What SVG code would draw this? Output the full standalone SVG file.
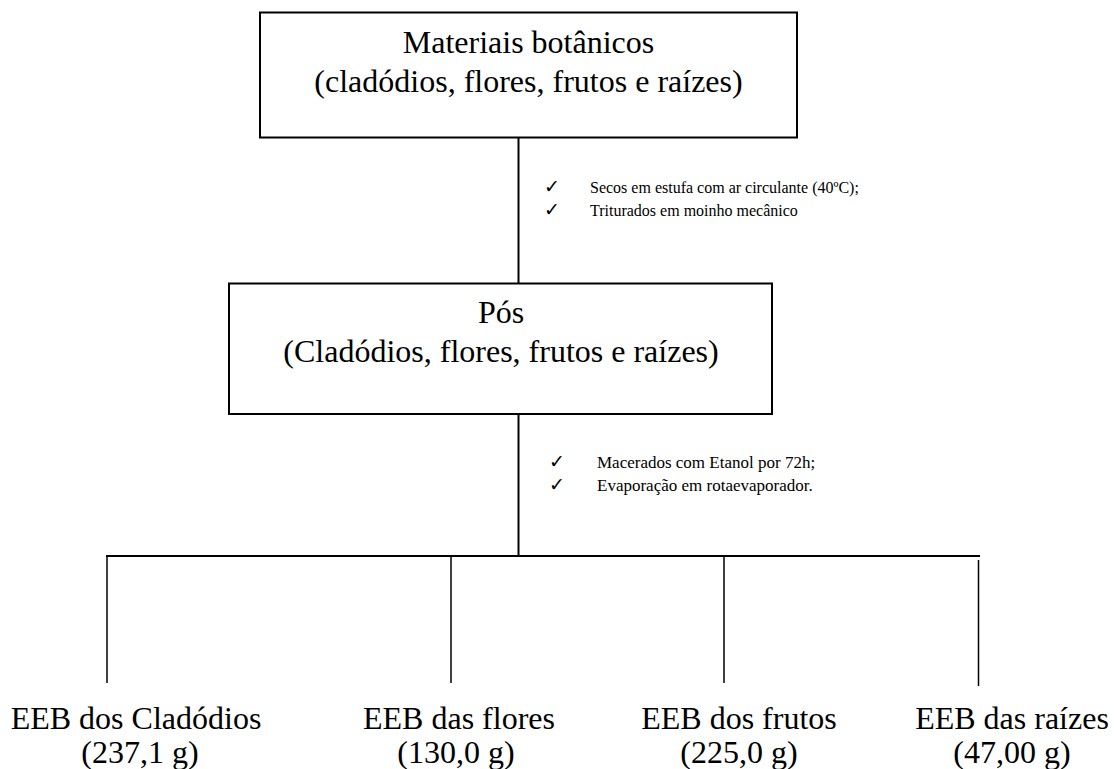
<svg xmlns="http://www.w3.org/2000/svg" width="1114" height="769" viewBox="0 0 1114 769">
<style>
.box{fill:#fff;stroke:#000;stroke-width:2}
.t32{font-family:"Liberation Serif","Times New Roman",serif;font-size:32px;fill:#000;text-anchor:middle}
.t16{font-family:"Liberation Serif","Times New Roman",serif;font-size:16px;fill:#000}
.t17{font-family:"Liberation Serif","Times New Roman",serif;font-size:17px;fill:#000}
.ck{font-family:"DejaVu Sans",sans-serif;font-size:19px;fill:#000}
.ln{stroke:#000;stroke-width:2;fill:none}
.br{stroke:#000;stroke-width:1.5;fill:none}
</style>
<rect width="1114" height="769" fill="#fff"/>
<g id="connectors">
<line class="ln" x1="518.5" y1="137" x2="518.5" y2="283"/>
<line class="ln" x1="518.5" y1="414" x2="518.5" y2="556"/>
<line class="ln" x1="106" y1="556" x2="980" y2="556"/>
<line class="br" x1="107" y1="556" x2="107" y2="683"/>
<line class="br" x1="451" y1="556" x2="451" y2="683"/>
<line class="br" x1="724" y1="556" x2="724" y2="683"/>
<line class="br" x1="978.5" y1="560" x2="978.5" y2="686"/>
</g>
<g id="step1">
<text class="ck" x="544" y="193">✓</text>
<text class="t16" x="590" y="193">Secos em estufa com ar circulante (40ºC);</text>
<text class="ck" x="544" y="216">✓</text>
<text class="t16" x="590" y="216">Triturados em moinho mecânico</text>
</g>
<g id="step2">
<text class="ck" x="549" y="468">✓</text>
<text class="t17" x="597" y="468">Macerados com Etanol por 72h;</text>
<text class="ck" x="549" y="491">✓</text>
<text class="t17" x="597" y="491">Evaporação em rotaevaporador.</text>
</g>
<g id="materiais">
<rect class="box" x="260" y="12.5" width="537" height="125"/>
<text class="t32" x="528.5" y="53">Materiais botânicos</text>
<text class="t32" x="528.5" y="92">(cladódios, flores, frutos e raízes)</text>
</g>
<g id="pos">
<rect class="box" x="229" y="283.5" width="543" height="130.5"/>
<text class="t32" x="501" y="323">Pós</text>
<text class="t32" x="501" y="362">(Cladódios, flores, frutos e raízes)</text>
</g>
<g id="eeb-cladodios">
<text class="t32" x="136" y="729">EEB dos Cladódios</text>
<text class="t32" x="140" y="763">(237,1 g)</text>
</g>
<g id="eeb-flores">
<text class="t32" x="459" y="729">EEB das flores</text>
<text class="t32" x="456" y="763">(130,0 g)</text>
</g>
<g id="eeb-frutos">
<text class="t32" x="739" y="729">EEB dos frutos</text>
<text class="t32" x="739" y="763">(225,0 g)</text>
</g>
<g id="eeb-raizes">
<text class="t32" x="1012" y="729">EEB das raízes</text>
<text class="t32" x="1012" y="763">(47,00 g)</text>
</g>
</svg>
